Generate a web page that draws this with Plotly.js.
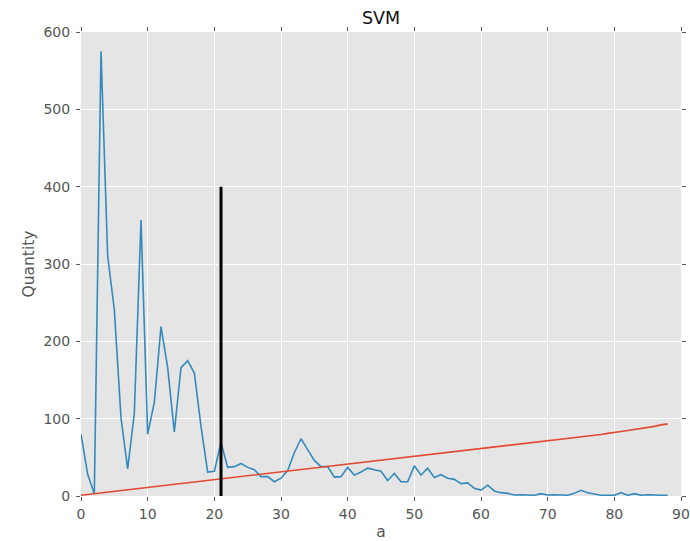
<!DOCTYPE html>
<html>
<head>
<meta charset="utf-8">
<script src="https://cdn.plot.ly/plotly-3.0.1.min.js"></script>
<style>
html,body{margin:0;padding:0;background:#fff;}
#chart{width:690px;height:541px;}
</style>
</head>
<body>
<div id="chart"></div>
<script>
// Data
var xValues = [0,1,2,3,4,5,6,7,8,9,10,11,12,13,14,15,16,17,18,19,20,21,22,23,24,25,26,27,28,29,30,31,32,33,34,35,36,37,38,39,40,41,42,43,44,45,46,47,48,49,50,51,52,53,54,55,56,57,58,59,60,61,62,63,64,65,66,67,68,69,70,71,72,73,74,75,76,77,78,79,80,81,82,83,84,85,86,87,88];
var quantity = [80,28,3,575,310,241,101,35,107,357,80,121,219,166,83,166,175,159,90,31,32,69,37,38,42,37,34,25,25,18.5,23,33,56,74,60,46,38,38,24.5,25,37,27,31,36,34,32,20,29,18.5,18.5,39,27,36,24,27.5,23,21.5,16,17,10,7.7,14,6.5,4.3,3.4,1.3,1.7,1,1,3,1.3,1.7,1,1,3.4,7.3,4.3,3,1,1,1,4.3,1,3,1,1.7,1,1,1];
var trend = [1,2,3,4,5,6,7,8,9,10,11,12,13,14,15,16,17,18,19,20,21.5,22.5,23.5,24.5,25.5,26.5,27.5,28.5,29.5,30.5,31.5,32.5,33.5,34.5,35.5,36.5,37.5,38.5,39.5,40.5,41.5,42.5,43.5,44.5,45.5,46.5,47.5,48.5,49.5,50.5,51.5,52.5,53.5,54.5,55.5,56.5,57.5,58.5,59.5,60.5,61.5,62.5,63.5,64.5,65.5,66.5,67.5,68.5,69.5,70.5,71.5,72.5,73,74,75,76,77,78,79.5,81,82.6,83.4,84.7,86,87,88.5,90,92,93.3];
var markerX = [21, 21];
var markerY = [0, 400];
var xTicks = [0,10,20,30,40,50,60,70,80,90];
var yTicks = [0,100,200,300,400,500,600];

var traces = [
  {x: xValues, y: quantity, type: 'scatter', mode: 'lines',
   line: {color: '#348ABD', width: 1.6}, hoverinfo: 'skip'},
  {x: xValues, y: trend, type: 'scatter', mode: 'lines',
   line: {color: '#E24A33', width: 1.6}, hoverinfo: 'skip'},
  {x: markerX, y: markerY, type: 'scatter', mode: 'lines',
   line: {color: '#000000', width: 3}, hoverinfo: 'skip'}
];

var axisCommon = {
  showgrid: true, gridcolor: '#ffffff', gridwidth: 1,
  zeroline: false, showline: false,
  ticks: 'outside', ticklen: 4, tickwidth: 1, tickcolor: '#555555',
  mirror: 'ticks',
  tickfont: {family: 'DejaVu Sans', size: 14, color: '#555555'}
};

var layout = {
  width: 690, height: 541,
  margin: {l: 81, r: 9, t: 32, b: 45},
  paper_bgcolor: '#ffffff', plot_bgcolor: '#E5E5E5',
  showlegend: false,
  title: {text: 'SVM', font: {family: 'DejaVu Sans', size: 17.5, color: '#111111'},
          x: 0.5, xanchor: 'center', xref: 'paper', y: 1, yref: 'paper', yanchor: 'bottom', pad: {b: 8}},
  xaxis: Object.assign({}, axisCommon, {
    range: [0, 90], tickvals: xTicks, ticktext: xTicks.map(String),
    ticklabelstandoff: 1,
    title: {text: 'a', font: {family: 'DejaVu Sans', size: 15.5, color: '#555555'}, standoff: 7}
  }),
  yaxis: Object.assign({}, axisCommon, {
    range: [0, 600], tickvals: yTicks, ticktext: yTicks.map(String),
    ticklabelstandoff: 3,
    title: {text: 'Quantity', font: {family: 'DejaVu Sans', size: 15.5, color: '#555555'}, standoff: 5}
  })
};

Plotly.newPlot('chart', traces, layout, {staticPlot: true, displayModeBar: false});
</script>
</body>
</html>
